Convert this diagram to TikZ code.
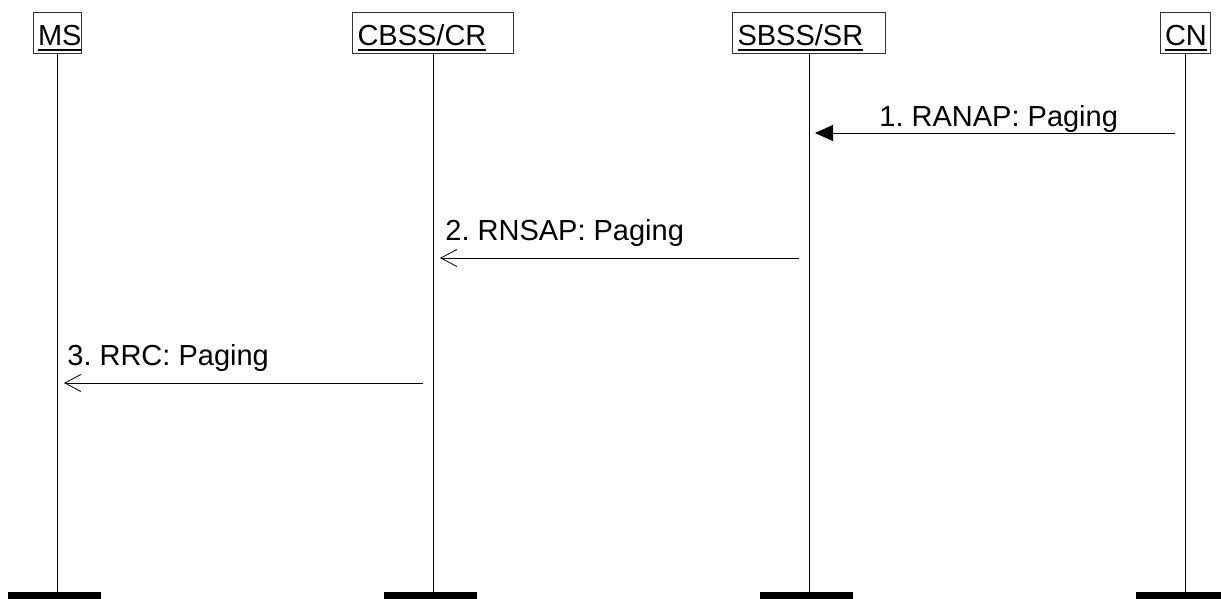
\documentclass[tikz,border=0pt]{standalone}
\usepackage{fontspec}
\setmainfont{Liberation Sans}
\usetikzlibrary{arrows.meta}
\frenchspacing
\newcommand\entname[1]{\setbox0\hbox{#1}\rlap{\rule[-6pt]{\wd0}{2.5pt}}\box0}
\begin{document}
\begin{tikzpicture}[x=1pt,y=-1pt,line width=.8pt,font=\fontsize{29}{34}\selectfont,
  entity/.style={draw=black!80,rectangle,anchor=north,inner xsep=5pt,inner ysep=0pt,
    text height=33pt,text depth=8pt,align=left},
  msg/.style={-{Straight Barb[length=16pt,width=17pt,line width=.8pt]},shorten <=10pt,shorten >=7pt},
  msgfill/.style={-{Triangle[length=18pt,width=16pt]},shorten <=10pt,shorten >=6pt},
  lbl/.style={anchor=base west,inner sep=0pt}]
\useasboundingbox (0,0) rectangle (1221,599);
\node[entity,text width=38pt] (ms) at (57,12) {\entname{MS}};
\node[entity,text width=151pt] (cbss) at (433,12) {\entname{CBSS/CR}};
\node[entity,text width=143pt] (sbss) at (809,12) {\entname{SBSS/SR}};
\node[entity,text width=40pt] (cn) at (1185,12) {\entname{CN}};
\foreach \n in {ms,cbss,sbss,cn}{
  \draw (\n.south) -- (\n.south |- 0,592);
  \fill ([xshift=-49pt]\n.south |- 0,591.5) rectangle ([xshift=44pt]\n.south |- 0,599);
}
\coordinate (m1s) at (cn.south |- 0,133);
\coordinate (m1e) at (sbss.south |- 0,133);
\coordinate (m2s) at (sbss.south |- 0,258);
\coordinate (m2e) at (cbss.south |- 0,258);
\coordinate (m3s) at (cbss.south |- 0,383);
\coordinate (m3e) at (ms.south |- 0,383);
\draw[msgfill] (m1s) -- (m1e);
\draw[msg] (m2s) -- (m2e);
\draw[msg] (m3s) -- (m3e);
\node[lbl] (l1) at (879,127) {1. RANAP: Paging};
\node[lbl] (l2) at (445,240) {2. RNSAP: Paging};
\node[lbl] (l3) at (67,365) {3. RRC: Paging};
\end{tikzpicture}
\end{document}
